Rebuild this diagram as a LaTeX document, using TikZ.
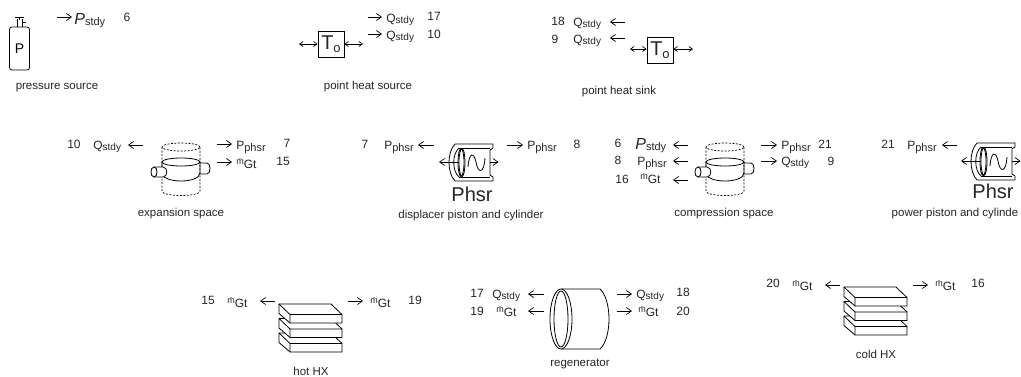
\documentclass[tikz,border=0pt]{standalone}
\usepackage{fontspec}
\setmainfont{Liberation Sans}
\usetikzlibrary{arrows.meta}
\newcommand\fs[1]{\fontsize{#1}{#1}\selectfont}
\newcommand\Qs{\fs{12}Q\raisebox{-1pt}{\fs{10}stdy}}
\newcommand\Pp{\fs{12}P\raisebox{-2.5pt}{\fs{11}phsr}}
\newcommand\Ms{\fs{12}\raisebox{1.5pt}{\fs{9}\makebox[0pt][l]{\hspace{2.6pt}\raisebox{5.5pt}{.}}m}\raisebox{-2.5pt}{Gt}}
\newcommand\Rs{\fs{16}\textit{P}\raisebox{-1pt}{\fs{11}stdy}}
\newcommand\lbl[4]{\node[txt] (#1) at (#2,#3) {#4};}
\newcommand\numb[4]{\node[txt,anchor=base] (#1) at (#2,#3) {\fs{12}#4};}
\newcommand\capt[4]{\node[cpt] (#1) at (#2,#3) {#4};}
\newcommand\conn[5]{\coordinate (#1s) at (#2,#4); \coordinate (#1e) at (#3,#4); \draw[#5] (#1s) -- (#1e);}
\newcommand\cylinderglyph[2]{\begin{scope}[shift={(#1,#2)}]
 \draw[dash pattern=on 2pt off 1.5pt] (0,0) ellipse [x radius=19pt,y radius=4pt];
 \draw[dash pattern=on 2pt off 1.5pt] (-19,0) -- (-19,44) .. controls (-19,50) and (19,50) .. (19,44) -- (19,0);
 \draw[solidline] (19,16) -- (26,16) .. controls (30,16) and (30,27) .. (26,27) -- (19,27);
 \draw[solidline] (-19,15) -- (-19,26) .. controls (-19,31) and (-10,34) .. (0,34) .. controls (10,34) and (19,31) .. (19,26) -- (19,15);
 \draw[solidline] (0,15) ellipse [x radius=19pt,y radius=4pt];
 \draw[solidline,fill=white] (-27,20) -- (-18,20) .. controls (-13,20) and (-13,30) .. (-18,30) -- (-27,30) .. controls (-31,30) and (-31,20) .. (-27,20) -- cycle;
 \draw[solidline] (-27,20) .. controls (-23,20) and (-23,30) .. (-27,30);
\end{scope}}
\newcommand\pistonglyph[2]{\begin{scope}[shift={(#1,#2)}]
 \draw[solidline] (0,0) -- (38,0) -- (38,4) -- (35,6) -- (35,31) -- (38,33) -- (38,37) -- (0,37);
 \draw[solidline] (4,4) -- (35,4) (4,33) -- (35,33);
 \draw[solidline] (0,0) .. controls (-8,8) and (-8,29) .. (0,37);
 \draw[solidline] (4,4) .. controls (-3,10) and (-3,27) .. (4,33);
 \draw[solidline] (6,18.5) ellipse [x radius=3pt,y radius=14pt];
 \draw[solidline] (7,18.5) ellipse [x radius=3pt,y radius=14pt];
 \draw[solidline] (13,23) .. controls (14,8) and (19,8) .. (21,18) .. controls (23,30) and (29,30) .. (30,14);
 \coordinate (pa#1) at (4,18); \coordinate (pb#1) at (-16,18);
 \coordinate (pc#1) at (35,18); \coordinate (pd#1) at (43.5,18);
 \draw[arr] (pa#1) -- (pb#1);
 \draw[arr] (pc#1) -- (pd#1);
\end{scope}}
\newcommand\hxglyph[2]{\begin{scope}[shift={(#1,#2)}]
 \foreach \dy in {29,14.5,0}{
  \draw[solidline,fill=white] (0,\dy) -- (52,\dy) -- (63,\dy+10.5) -- (63,\dy+19) -- (11,\dy+19) -- (0,\dy+9.5) -- cycle;
  \draw[solidline] (0,\dy) -- (11,\dy+10.5) -- (63,\dy+10.5) (11,\dy+10.5) -- (11,\dy+19);
 }
\end{scope}}
\tikzset{
 x=1pt,y=-1pt,
 every path/.style={line width=.7pt},
 solidline/.style={line width=.8pt},
 txt/.style={anchor=base west,inner sep=0pt,text=black!85},
 cpt/.style={anchor=center,inner sep=0pt,text=black!85,font=\fs{11.5}},
 arr/.style={-{Straight Barb[length=5pt,width=7pt]},line width=.7pt},
 dbl/.style={{Straight Barb[length=3.5pt,width=5pt]}-{Straight Barb[length=3.5pt,width=5pt]},line width=.7pt},
 tbox/.style={draw,line width=.8pt,minimum size=26pt,inner sep=0pt,font=\fs{20},text=black!85},
 bottle/.style={draw,line width=.8pt,rounded corners=2.5pt,minimum width=20pt,minimum height=43pt,inner sep=0pt,font=\fs{14}},
 bigtxt/.style={anchor=center,inner sep=0pt,text=black!85,font=\fs{20}},
}
\begin{document}
\begin{tikzpicture}
\useasboundingbox[fill=white] (0,0) rectangle (1021,376);
% pressure source
\node[bottle] (bt) at (19.5,48.5) {P};
\draw[solidline] (17,27) -- (17,19) (22,27) -- (22,19) (15,17) -- (24,17) (19,17) -- (19,20) (22,22) -- (26,22);
\conn{a}{57}{72}{17}{arr}
\lbl{l1}{74}{24}{\Rs}
\numb{n1}{127}{21}{6}
\capt{c1}{57}{88}{pressure source}
% point heat source
\node[tbox] (ts) at (331,44) {T\raisebox{-3pt}{\fs{13}o}};
\coordinate (tsl) at (299,44); \coordinate (tsr) at (363,44);
\draw[dbl] (tsl) -- (ts.west); \draw[dbl] (ts.east) -- (tsr);
\conn{b}{368}{382}{17}{arr}
\conn{c}{368}{382}{34}{arr}
\lbl{l2}{386}{22}{\Qs}
\lbl{l3}{386}{39}{\Qs}
\numb{n2}{434}{20}{17}
\numb{n3}{434}{38}{10}
\capt{c2}{368}{87}{point heat source}
% point heat sink
\node[tbox] (tk) at (660,50) {T\raisebox{-3pt}{\fs{13}o}};
\coordinate (tkl) at (630,49); \coordinate (tkr) at (693,49);
\draw[dbl] (tkl) -- (tk.west |- tkl); \draw[dbl] (tk.east |- tkr) -- (tkr);
\conn{d}{625}{610}{22}{arr}
\conn{e}{625}{610}{38}{arr}
\lbl{l4}{573}{26}{\Qs}
\lbl{l5}{573}{43}{\Qs}
\numb{n4}{558}{25}{18}
\numb{n5}{555}{43}{9}
\capt{c3}{619}{92}{point heat sink}
% expansion space
\cylinderglyph{181}{147}
\conn{f}{143}{128}{145}{arr}
\conn{g}{217}{232}{144}{arr}
\conn{h}{217}{232}{162}{arr}
\lbl{l6}{93}{149}{\Qs}
\lbl{l7}{236}{149}{\Pp}
\lbl{l8}{236}{166}{\Ms}
\numb{n6}{74}{148}{10}
\numb{n7}{287}{147}{7}
\numb{n8}{283}{165}{15}
\capt{c4}{181}{214}{expansion space}
% displacer
\pistonglyph{455}{144}
\conn{i}{434}{418}{145}{arr}
\conn{j}{507}{523}{145}{arr}
\lbl{l9}{384}{149}{\Pp}
\lbl{l10}{527}{149}{\Pp}
\numb{n9}{365}{148}{7}
\numb{n10}{577}{148}{8}
\node[bigtxt] (b1) at (472,194) {Phsr};
\capt{c5}{471}{216}{displacer piston and cylinder}
% compression
\cylinderglyph{725}{147}
\conn{k}{688}{673}{145}{arr}
\conn{m}{688}{673}{161}{arr}
\conn{o}{688}{673}{180}{arr}
\conn{p}{761}{777}{145}{arr}
\conn{q}{761}{777}{161}{arr}
\lbl{l11}{635}{149}{\Rs}
\lbl{l12}{637}{165}{\Pp}
\lbl{l13}{640}{181}{\Ms}
\lbl{l14}{781}{149}{\Pp}
\lbl{l15}{781}{165}{\Qs}
\numb{n11}{618}{147}{6}
\numb{n12}{618}{164}{8}
\numb{n13}{622}{183}{16}
\numb{n14}{825}{148}{21}
\numb{n15}{831}{165}{9}
\capt{c6}{724}{214}{compression space}
% power piston
\pistonglyph{977}{143}
\conn{r}{957}{942}{145}{arr}
\lbl{l16}{907}{149}{\Pp}
\numb{n16}{888}{148}{21}
\node[bigtxt] (b2) at (993,191) {Phsr};
\capt{c7}{955}{214}{power piston and cylinde}
% hot HX
\hxglyph{279}{304}
\conn{s}{275}{260}{301}{arr}
\conn{t}{348}{363}{301}{arr}
\lbl{l17}{227}{305}{\Ms}
\lbl{l18}{370}{305}{\Ms}
\numb{n17}{208}{304}{15}
\numb{n18}{415}{304}{19}
\capt{c8}{311}{371}{hot HX}
% regenerator
\draw[solidline] (561,289) -- (600,289) .. controls (612,300) and (612,338) .. (600,349) -- (561,349);
\draw[solidline,fill=white] (561,319) ellipse [x radius=11pt,y radius=30pt];
\draw[solidline] (561,319) ellipse [x radius=7pt,y radius=28pt];
\conn{u}{544}{528}{294}{arr}
\conn{v}{544}{528}{311}{arr}
\conn{w}{617}{632}{294}{arr}
\conn{y}{617}{632}{311}{arr}
\lbl{l19}{492}{298}{\Qs}
\lbl{l20}{496}{314}{\Ms}
\lbl{l21}{636}{298}{\Qs}
\lbl{l22}{638}{314}{\Ms}
\numb{n19}{477}{297}{17}
\numb{n20}{477}{315}{19}
\numb{n21}{683}{296}{18}
\numb{n22}{683}{315}{20}
\capt{c9}{580}{364}{regenerator}
% cold HX
\hxglyph{844}{287}
\conn{z}{840}{825}{285}{arr}
\conn{aa}{913}{928}{285}{arr}
\lbl{l23}{792}{288}{\Ms}
\lbl{l24}{935}{288}{\Ms}
\numb{n23}{773}{287}{20}
\numb{n24}{978}{287}{16}
\capt{c10}{876}{354}{cold HX}
\end{tikzpicture}
\end{document}
